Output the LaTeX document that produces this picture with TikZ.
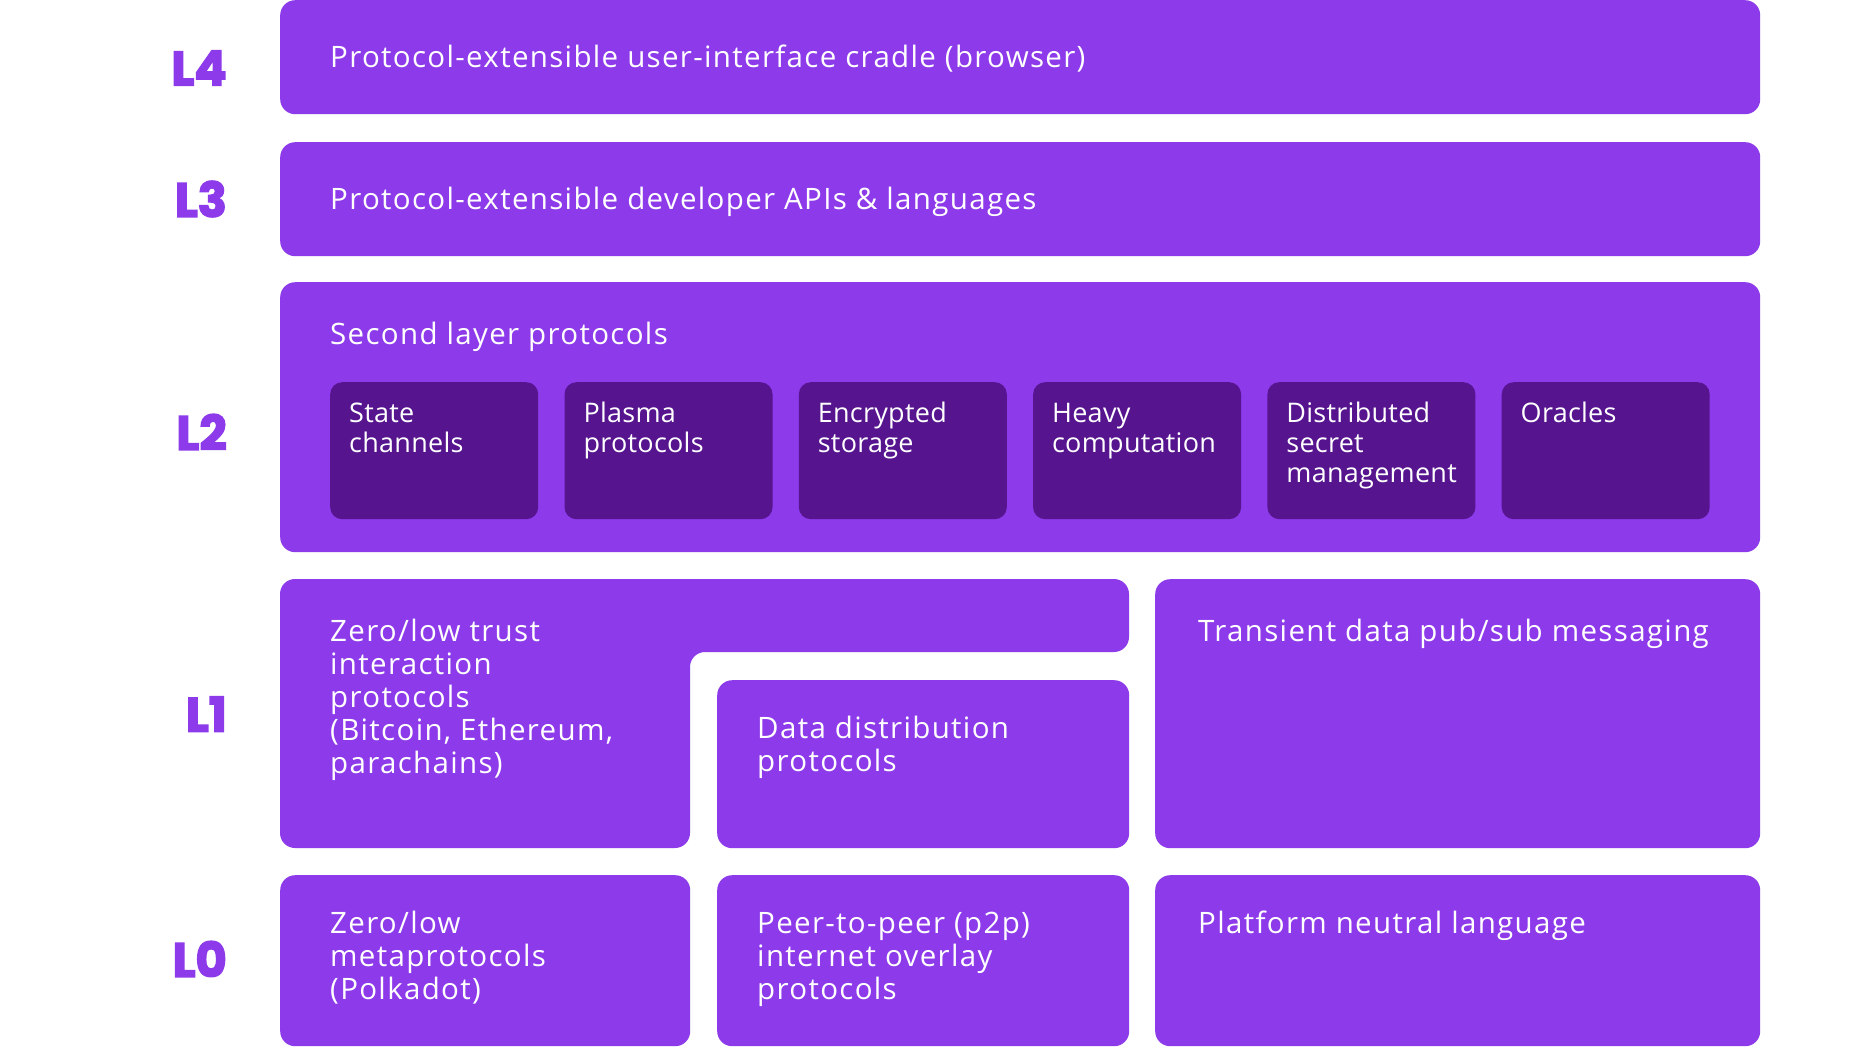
\documentclass[tikz,border=0pt]{standalone}
\usepackage{fontspec}
\setmainfont{Open Sans}[LetterSpace=4.5]
\newfontfamily\subfont{Open Sans}[LetterSpace=1]
\newfontfamily\lvlfont{Poppins}[BoldFeatures={FakeBold=3}]
\usetikzlibrary{positioning}
\definecolor{dotPurple}{RGB}{141,58,234}
\definecolor{dotDeep}{RGB}{86,20,143}
\newcommand{\rows}[1]{\begin{tabular}[t]{@{}l@{}}#1\end{tabular}}

\begin{document}
\begin{tikzpicture}[
  x=1pt, y=-1pt,
  layer/.style={fill=dotPurple, rounded corners=15pt, inner sep=0pt, anchor=north west},
  sub/.style={fill=dotDeep, rounded corners=12pt, inner sep=0pt, anchor=north west, minimum width=208pt, minimum height=137pt},
  txt/.style={anchor=base west, inner sep=0pt, text=white, font=\fontsize{29.5}{33}\selectfont},
  subtxt/.style={txt, font=\subfont\fontsize{27}{30}\selectfont},
  lvl/.style={anchor=east, inner sep=0pt, text=dotPurple, font=\lvlfont\bfseries\fontsize{48}{48}\selectfont}
]
\fill[white] (0,0) rectangle (1850,1047);
\useasboundingbox (0,0) rectangle (1850,1047);

% level labels
\node[lvl] (n4) at (227,68) {L4};
\node[lvl] (n3) at (227,199) {L3};
\node[lvl] (n2) at (227,432) {L2};
\node[lvl] (n1) at (227,714) {L1};
\node[lvl] (n0) at (227,959) {L0};

% L4, L3
\node[layer, minimum width=1480pt, minimum height=114pt] (l4) at (280,0) {};
\node[txt] (l4t) at ([shift={(50,67)}]l4.north west) {Protocol-extensible user-interface cradle (browser)};
\node[layer, minimum width=1480pt, minimum height=114pt] (l3) at (280,142) {};
\node[txt] (l3t) at ([shift={(50,67)}]l3.north west) {Protocol-extensible developer APIs \& languages};

% L2
\node[layer, minimum width=1480pt, minimum height=270pt] (l2) at (280,282) {};
\node[txt] (l2t) at ([shift={(50,62)}]l2.north west) {Second layer protocols};
\foreach \i/\lbl in {0/{State\\channels}, 1/{Plasma\\protocols}, 2/{Encrypted\\storage},
                     3/{Heavy\\computation}, 4/{Distributed\\secret\\management}, 5/{Oracles}} {
  \node[sub] (s\i) at (330+\i*234.3,382) {};
  \node[subtxt] at ([shift={(19,40)}]s\i.north west) {\rows{\lbl}};
}

% L1
\fill[dotPurple, rounded corners=15pt] (280,579) -- (1129,579) -- (1129,652) -- (690,652)
  -- (690,848) -- (280,848) -- cycle;
\node[txt] (l1t) at (330,641) {\rows{Zero/low trust\\interaction\\protocols\\(Bitcoin, Ethereum,\\parachains)}};
\node[layer, minimum width=412pt, minimum height=168pt] (dd) at (717,680) {};
\node[txt] (ddt) at ([shift={(40,58.5)}]dd.north west) {\rows{Data distribution\\protocols}};
\node[layer, minimum width=605pt, minimum height=269pt] (ps) at (1155,579) {};
\node[txt] (pst) at ([shift={(43,62)}]ps.north west) {Transient data pub/sub messaging};

% L0
\node[layer, minimum width=410pt, minimum height=171pt] (mp) at (280,875) {};
\node[txt] (mpt) at ([shift={(50,58)}]mp.north west) {\rows{Zero/low\\metaprotocols\\(Polkadot)}};
\node[layer, minimum width=412pt, minimum height=171pt] (pp) at (717,875) {};
\node[txt] (ppt) at ([shift={(40,58)}]pp.north west) {\rows{Peer-to-peer (p2p)\\internet overlay\\protocols}};
\node[layer, minimum width=605pt, minimum height=171pt] (pl) at (1155,875) {};
\node[txt] (plt) at ([shift={(43,58)}]pl.north west) {Platform neutral language};
\end{tikzpicture}
\end{document}
